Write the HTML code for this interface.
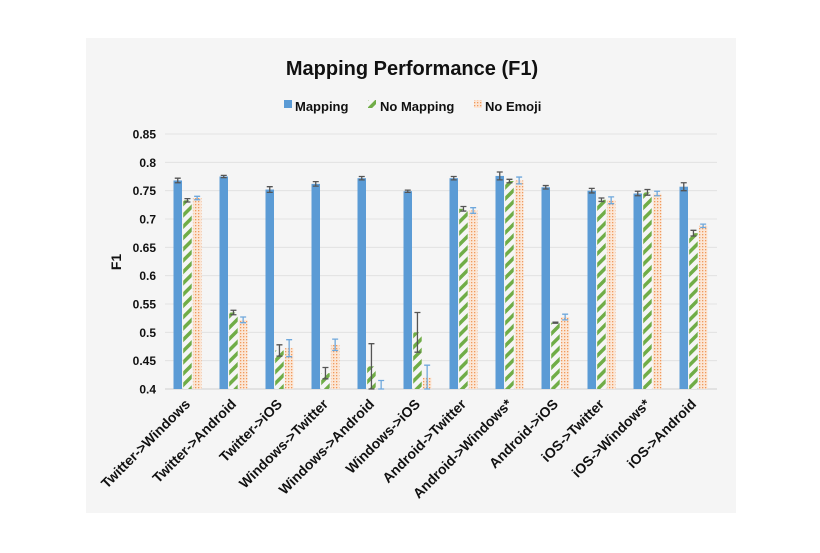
<!DOCTYPE html>
<html><head><meta charset="utf-8"><style>
html,body{margin:0;padding:0;background:#fff;}
svg{display:block;font-family:"Liberation Sans",sans-serif;}
</style></head><body>
<svg id="chart" width="820" height="553" viewBox="0 0 820 553">
<defs>
<pattern id="hatch" patternUnits="userSpaceOnUse" width="8" height="8" patternTransform="rotate(45)">
<rect width="8" height="8" fill="#f5f5f5"/><rect x="0" width="3.5" height="8" fill="#70ad47"/>
</pattern>
<pattern id="dots" patternUnits="userSpaceOnUse" width="3" height="3">
<rect width="3" height="3" fill="#fbe6d6"/><rect width="1.3" height="1.3" fill="#f09a5c"/>
</pattern>
</defs>
<rect x="86" y="38" width="650" height="475" fill="#f5f5f5"/>
<text x="412" y="75" text-anchor="middle" font-size="20" font-weight="bold" fill="#111">Mapping Performance (F1)</text>
<g font-size="13" font-weight="bold" fill="#111">
<g><rect x="284" y="100" width="8" height="8" fill="#5b9bd5"/><text x="295" y="111">Mapping</text></g>
<g><rect x="368" y="100" width="8" height="8" fill="url(#hatch)"/><text x="380" y="111">No Mapping</text></g>
<g><rect x="474" y="100" width="8" height="8" fill="url(#dots)"/><text x="485" y="111">No Emoji</text></g>
</g>
<text transform="translate(121,262) rotate(-90)" text-anchor="middle" font-size="14" font-weight="bold" fill="#111">F1</text>
<g id="grid"></g><g id="bars"></g><g id="xlabels"></g>
</svg>
<script>
const categories=["Twitter->Windows","Twitter->Android","Twitter->iOS","Windows->Twitter","Windows->Android","Windows->iOS","Android->Twitter","Android->Windows*","Android->iOS","iOS->Twitter","iOS->Windows*","iOS->Android"];
const mapping=[0.768,0.775,0.752,0.762,0.772,0.749,0.772,0.776,0.756,0.750,0.745,0.757];
const mappingErr=[0.004,0.002,0.005,0.004,0.003,0.002,0.003,0.007,0.003,0.004,0.004,0.007];
const noMapping=[0.733,0.535,0.468,0.428,0.440,0.500,0.718,0.767,0.517,0.734,0.747,0.675];
const noMappingErr=[0.003,0.004,0.010,0.010,0.040,0.035,0.004,0.003,0.001,0.003,0.005,0.005];
const noEmoji=[0.737,0.522,0.472,0.478,0.400,0.420,0.715,0.768,0.527,0.733,0.745,0.688];
const noEmojiErr=[0.003,0.005,0.015,0.010,0.015,0.022,0.005,0.006,0.005,0.006,0.004,0.003];
const yTicks=[0.4,0.45,0.5,0.55,0.6,0.65,0.7,0.75,0.8,0.85];
const yTickLabels=["0.4","0.45","0.5","0.55","0.6","0.65","0.7","0.75","0.8","0.85"];

const NS="http://www.w3.org/2000/svg";
const X0=165,X1=717,Y0=389,Y1=134,YMIN=0.4,YMAX=0.85;
const bw=(X1-X0)/categories.length;
function y(v){return Y0-(v-YMIN)/(YMAX-YMIN)*(Y0-Y1);}
function xc(i){return X0+bw*(i+0.5);}
function mk(tag,attrs,parent){const e=document.createElementNS(NS,tag);for(const k in attrs)e.setAttribute(k,attrs[k]);parent.appendChild(e);return e;}
const grid=document.getElementById('grid'),bars=document.getElementById('bars'),xl=document.getElementById('xlabels');
yTicks.forEach((t,i)=>{
 const l=mk('line',{x1:X0,x2:X1,y1:y(t),y2:y(t),stroke:i===0?'#d0d0d0':'#e2e2e2','stroke-width':1},grid);
 
 
 const tx=mk('text',{x:156,y:y(t)+4.5,'text-anchor':'end','font-size':12,'font-weight':'bold',fill:'#111'},grid);
 tx.textContent=yTickLabels[i];
 
 
});
const series=[[mapping,mappingErr,'#5b9bd5','#555','mapping'],[noMapping,noMappingErr,'url(#hatch)','#555','no-mapping'],[noEmoji,noEmojiErr,'url(#dots)','#6fa8dc','no-emoji']];
const w=8.5;
categories.forEach((c,i)=>{
 series.forEach((s,j)=>{
  const v=s[0][i],e=s[1][i];
  const x=xc(i)-14.5+j*9.7;
  const top=y(Math.max(v,YMIN));
  const r=mk('rect',{x:x,y:top,width:w,height:Math.max(0,Y0-top),fill:s[2]},bars);
  
  
  const cx=x+w/2,y1=y(v+e),y2=y(Math.max(v-e,YMIN));
  const g=mk('path',{d:`M${cx} ${y1}V${y2}M${cx-3} ${y1}H${cx+3}M${cx-3} ${y2}H${cx+3}`,stroke:s[3],'stroke-width':1.3,fill:'none'},bars);
  
  
 });
 const t=mk('text',{transform:`translate(${xc(i)+3},${Y0+16}) rotate(-45)`,'text-anchor':'end','font-size':14,'font-weight':'bold',fill:'#111'},xl);
 t.textContent=c;
 
 
});
</script>
</body></html>
